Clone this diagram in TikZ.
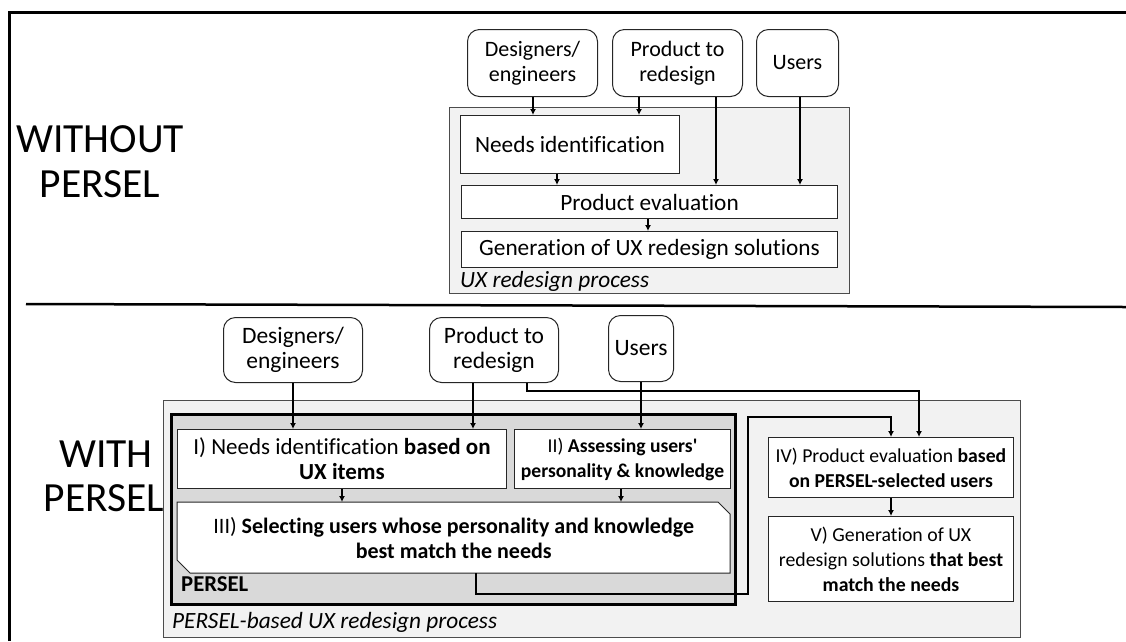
\documentclass[tikz,border=0pt]{standalone}
\usepackage{fontspec}
\setmainfont{Carlito}[Ligatures=NoCommon]
\usetikzlibrary{arrows.meta}

\newcommand{\fs}[1]{\fontsize{#1}{25}\selectfont}

\begin{document}
\begin{tikzpicture}[x=1pt,y=-1pt,
  txt/.style={font=\fs{22}},
  box/.style={draw=black!85, line width=1pt, fill=white, align=center,
              inner sep=0pt, anchor=north west, txt},
  srcbox/.style={box, rounded corners=12pt},
  area/.style={draw=black!70, line width=1pt, fill=black!5, anchor=north west, inner sep=0pt},
  perselbox/.style={draw=black, line width=3pt, fill=black!15, anchor=north west, inner sep=0pt},
  arr/.style={line width=1.3pt, -{Latex[length=6pt,width=6pt]}},
  big/.style={font=\fontsize{41.5}{45}\selectfont, anchor=base},
  caption/.style={font=\fontsize{23.3}{25}\selectfont\itshape, anchor=base west, inner sep=0pt},
]
\useasboundingbox (0,0) rectangle (1126,641);

% frame and separator
\draw[line width=3pt] (9,641) -- (9,12) -- (1126,12);
\draw[line width=2.5pt] (26,304) -- (1126,307);

% section titles
\node[big] (wo1) at (100,152) {WITHOUT};
\node[big] (wo2) at (100,197) {PERSEL};
\node[big] (wi1) at (106,467) {WITH};
\node[big] (wi2) at (104,511) {PERSEL};

% ---------- process without PERSEL ----------
\node[area, minimum width=400pt, minimum height=186pt] (proc1) at (449,107) {};
\node[caption] (cap1) at (460,287) {UX redesign process};

\node[srcbox, minimum width=130pt, minimum height=67pt] (dsg1) at (467,29) {Designers/\\engineers};
\node[srcbox, minimum width=130pt, minimum height=67pt] (prd1) at (612,29) {Product to\\redesign};
\node[srcbox, minimum width=82pt, minimum height=67pt] (usr1) at (756,29) {Users};

\node[box, font=\fs{23.3}, minimum width=219pt, minimum height=58pt] (needs1) at (460,115) {Needs identification};
\node[box, font=\fs{23.3}, minimum width=376pt, minimum height=33pt] (eval1) at (461,185) {Product evaluation};
\node[box, font=\fs{23.3}, minimum width=376pt, minimum height=36pt] (gen1) at (461,231) {Generation of UX redesign solutions};

\coordinate (ta) at (533,0);
\coordinate (tb) at (639,0);
\coordinate (tc) at (716,0);
\coordinate (td) at (800,0);
\coordinate (te) at (557,0);
\coordinate (tf) at (648,0);
\draw[arr] (dsg1.south -| ta) -- (needs1.north -| ta);
\draw[arr] (prd1.south -| tb) -- (needs1.north -| tb);
\draw[arr] (prd1.south -| tc) -- (eval1.north -| tc);
\draw[arr] (usr1.south -| td) -- (eval1.north -| td);
\draw[arr] (needs1.south -| te) -- (eval1.north -| te);
\draw[arr] (eval1.south -| tf) -- (gen1.north -| tf);

% ---------- process with PERSEL ----------
\node[area, minimum width=857pt, minimum height=237pt] (proc2) at (163,400) {};
\node[caption] (cap2) at (172,628) {PERSEL-based UX redesign process};
\node[perselbox, minimum width=564pt, minimum height=190pt] (persel) at (170,413) {};
\node[font=\fontsize{22.7}{25}\selectfont\bfseries, anchor=base west, inner sep=0pt] (perselname) at (181,591) {PERSEL};

\node[srcbox, font=\fs{23.5}, minimum width=139pt, minimum height=65pt] (dsg2) at (223,317) {Designers/\\engineers};
\node[srcbox, font=\fs{23.5}, minimum width=129pt, minimum height=65pt] (prd2) at (429,317) {Product to\\redesign};
\node[srcbox, font=\fs{23.5}, minimum width=65pt, minimum height=66pt] (usr2) at (608,315) {Users};

\node[box, font=\fs{23}, minimum width=329pt, minimum height=59pt] (b1) at (177,429)
  {I) Needs identification \textbf{based on}\\\textbf{UX items}};
\node[box, font=\fs{19.6}, minimum width=216pt, minimum height=59pt] (b2) at (514,429)
  {II) \textbf{Assessing users\textquotesingle}\\\textbf{personality \& knowledge}};
% selection step: a box with its top right and bottom left corners cut off
\coordinate (c1) at (177,502);
\coordinate (c2) at (718,502);
\coordinate (c3) at (730,514);
\coordinate (c4) at (730,573);
\coordinate (c5) at (190,573);
\coordinate (c6) at (177,560);
\fill[white, draw=black!85, line width=1pt] (c1) -- (c2) -- (c3) -- (c4) -- (c5) -- (c6) -- cycle;
\node[anchor=north west, inner sep=0pt, minimum width=553pt, minimum height=71pt, align=center, font=\fs{22}] (b3) at (c1)
  {III) \textbf{Selecting users whose personality and knowledge}\\\textbf{best match the needs}};

\node[box, font=\fs{19.7}, minimum width=245pt, minimum height=60pt] (b4) at (768,437)
  {IV) Product evaluation \textbf{based}\\\textbf{on PERSEL-selected users}};
\node[box, font=\fs{19.8}, minimum width=245pt, minimum height=85pt] (b5) at (768,516)
  {V) Generation of UX\\redesign solutions \textbf{that best}\\\textbf{match the needs}};

\coordinate (ba) at (293,0);
\coordinate (bb) at (473,0);
\coordinate (bc) at (641,0);
\coordinate (bd) at (342,0);
\coordinate (be) at (621,0);
\coordinate (bf) at (891,0);
\coordinate (bg) at (527,0);
\coordinate (bh) at (919,0);
\coordinate (bi) at (476,0);
\draw[arr] (dsg2.south -| ba) -- (b1.north -| ba);
\draw[arr] (prd2.south -| bb) -- (b1.north -| bb);
\draw[arr] (usr2.south -| bc) -- (b2.north -| bc);
\draw[arr] (b1.south -| bd) -- (b3.north -| bd);
\draw[arr] (b2.south -| be) -- (b3.north -| be);
\draw[arr] (b4.south -| bf) -- (b5.north -| bf);

% product goes straight to the evaluation step
\coordinate (pr1) at (527,391);
\draw[arr] (prd2.south -| bg) -- (pr1) -- (pr1 -| bh) -- (b4.north -| bh);
% selected users go to the evaluation step
\coordinate (sl1) at (476,594);
\coordinate (sl2) at (748,594);
\coordinate (sl3) at (748,417);
\draw[arr] (b3.south -| bi) -- (sl1) -- (sl2) -- (sl3) -- (sl3 -| bf) -- (b4.north -| bf);
\end{tikzpicture}
\end{document}
